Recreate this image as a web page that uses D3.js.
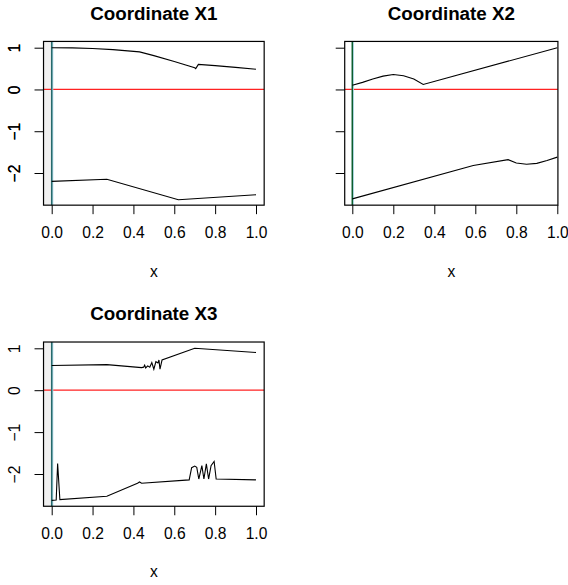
<!DOCTYPE html>
<html><head><meta charset="utf-8">
<script src="https://cdn.jsdelivr.net/npm/d3@7/dist/d3.min.js"></script>
<style>body{margin:0;background:#fff}svg{display:block}text{font-family:"Liberation Sans",Arial,Helvetica,sans-serif}</style>
</head><body><svg id="c" width="568" height="585"></svg>
<script>
// ---- data ----
const titles = ["Coordinate X1", "Coordinate X2", "Coordinate X3"];
const xTicks = [0.0, 0.2, 0.4, 0.6, 0.8, 1.0];
const yTicks = [-2, -1, 0, 1];
const xLabel = "x";

const x1UpperX = [0, 0.1, 0.2, 0.3, 0.43, 0.5, 0.6, 0.7, 0.705, 0.718, 0.8, 0.9, 1.0];
const x1UpperY = [1.0, 0.995, 0.98, 0.955, 0.9, 0.81, 0.67, 0.52, 0.50, 0.60, 0.57, 0.53, 0.485];
const x1LowerX = [0, 0.27, 0.62, 1.0];
const x1LowerY = [-2.2, -2.15, -2.64, -2.52];

const x2UpperX = [0, 0.05, 0.1, 0.15, 0.2, 0.25, 0.3, 0.346, 1.0];
const x2UpperY = [0.10, 0.17, 0.25, 0.32, 0.36, 0.33, 0.25, 0.12, 1.0];
const x2LowerX = [0, 0.59, 0.76, 0.8, 0.85, 0.9, 0.95, 1.0];
const x2LowerY = [-2.62, -1.82, -1.68, -1.76, -1.79, -1.77, -1.70, -1.62];

const x3UpperX = [0, 0.27, 0.44, 0.45, 0.455, 0.46, 0.47, 0.48, 0.49, 0.50, 0.51, 0.52, 0.525, 0.53, 0.54, 0.70, 1.0];
const x3UpperY = [0.59, 0.61, 0.54, 0.55, 0.60, 0.53, 0.58, 0.55, 0.66, 0.50, 0.68, 0.65, 0.72, 0.50, 0.72, 1.0, 0.90];
const x3LowerX = [0, 0.022, 0.029, 0.04, 0.27, 0.42, 0.43, 0.44, 0.673, 0.685, 0.70, 0.71, 0.72, 0.735, 0.745, 0.757, 0.768, 0.78, 0.795, 0.805, 1.0];
const x3LowerY = [-2.63, -2.62, -1.75, -2.61, -2.53, -2.22, -2.19, -2.22, -2.14, -1.85, -1.81, -1.84, -2.12, -1.80, -2.12, -1.76, -2.12, -1.80, -1.70, -2.12, -2.14];

// ---- layout ----
const FS = 15.6, FT = 18.8;
const panels = [
  {title: titles[0], up: [x1UpperX, x1UpperY], lo: [x1LowerX, x1LowerY],
   x0: 51.7, x1: 256, xlim: [-0.04, 1.04], yA: 173, yB: 47.7, ylim: [-2.77, 1.15], titleY: 20, xlabOff: 72, shade: true, vcol: "#276a6c"},
  {title: titles[1], up: [x2UpperX, x2UpperY], lo: [x2LowerX, x2LowerY],
   x0: 352.3, x1: 557.3, xlim: [-0.037, 1.003], yA: 173, yB: 47.7, ylim: [-2.77, 1.15], titleY: 20, xlabOff: 72, shade: false, vcol: "#0d5e2e"},
  {title: titles[2], up: [x3UpperX, x3UpperY], lo: [x3LowerX, x3LowerY],
   x0: 51.7, x1: 256, xlim: [-0.04, 1.04], yA: 474, yB: 348.3, ylim: [-2.77, 1.15], titleY: 320, xlabOff: 71, shade: true, vcol: "#276a6c"}
];

const svg = d3.select("#c");

panels.forEach((p, k) => {
  const x = d3.scaleLinear().domain([0, 1]).range([p.x0, p.x1]);
  const y = d3.scaleLinear().domain([-2, 1]).range([p.yA, p.yB]);
  const L = x(p.xlim[0]), R = x(p.xlim[1]), T = y(p.ylim[1]), B = y(p.ylim[0]);
  const g = svg.append("g");
  const clipId = "clip" + k;
  svg.append("clipPath").attr("id", clipId).append("rect").attr("x", L).attr("y", T).attr("width", R - L).attr("height", B - T);
  const inner = g.append("g").attr("clip-path", `url(#${clipId})`);

  if (p.shade) {
    inner.append("rect").attr("x", L).attr("y", T).attr("width", x(0) - L).attr("height", B - T).attr("fill", "#f0f0f0");
  }
  inner.append("line").attr("x1", L).attr("x2", R).attr("y1", y(0)).attr("y2", y(0))
    .attr("stroke", "#f22").attr("stroke-width", 1.2);
  inner.append("line").attr("x1", x(0) + 0.6).attr("x2", x(0) + 0.6).attr("y1", T).attr("y2", B)
    .attr("stroke", "#add8e6").attr("stroke-width", 2);
  inner.append("line").attr("x1", x(0)).attr("x2", x(0)).attr("y1", T).attr("y2", B)
    .attr("stroke", p.vcol).attr("stroke-width", 1.5);

  const line = d3.line().x(d => x(d[0])).y(d => y(d[1]));
  [p.up, p.lo].forEach(s => {
    const pts = s[0].map((v, i) => [v, s[1][i]]);
    inner.append("path").attr("d", line(pts)).attr("fill", "none").attr("stroke", "#000").attr("stroke-width", 1.1);
  });

  g.append("rect").attr("x", L).attr("y", T).attr("width", R - L).attr("height", B - T)
    .attr("fill", "none").attr("stroke", "#000").attr("stroke-width", 1.2);

  const xa = d3.axisBottom(x).tickValues(xTicks).tickFormat(d3.format(".1f")).tickSize(9).tickPadding(13);
  const xg = g.append("g").attr("transform", `translate(0,${B})`).call(xa);
  xg.select(".domain").remove();
  xg.selectAll("line").attr("stroke", "#000").attr("stroke-width", 1);
  xg.selectAll("text").attr("font-size", FS).attr("fill", "#000").attr("font-family", "Liberation Sans, Arial, sans-serif");

  const ya = d3.axisLeft(y).tickValues(yTicks).tickFormat(d3.format("d")).tickSize(9).tickPadding(0);
  const yg = g.append("g").attr("transform", `translate(${L},0)`).call(ya);
  yg.select(".domain").remove();
  yg.selectAll("line").attr("stroke", "#000").attr("stroke-width", 1);
  yg.selectAll("text").attr("font-size", FS).attr("fill", "#000").attr("font-family", "Liberation Sans, Arial, sans-serif")
    .attr("text-anchor", "middle").attr("dy", null).attr("x", null)
    .attr("transform", `translate(${14.5 - L},0) rotate(-90)`)
    .attr("y", 0).attr("dominant-baseline", "central");

  g.append("text").attr("x", (L + R) / 2).attr("y", B + p.xlabOff).attr("text-anchor", "middle")
    .attr("font-size", FS).text(xLabel);
  g.append("text").attr("x", (L + R) / 2).attr("y", p.titleY).attr("text-anchor", "middle")
    .attr("font-size", FT).attr("font-weight", "bold").text(p.title);
});
</script></body></html>
